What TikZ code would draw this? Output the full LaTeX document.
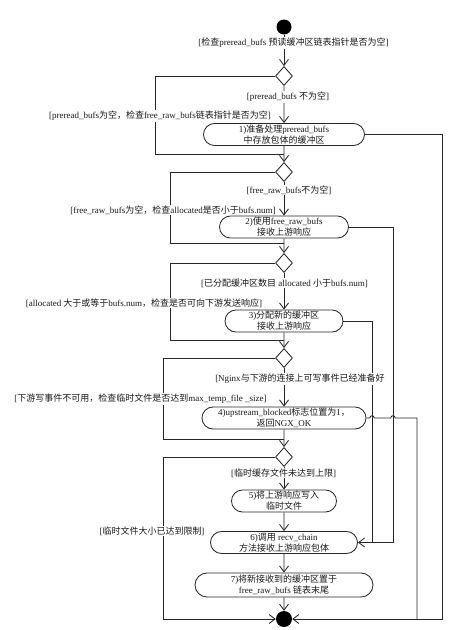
\documentclass[tikz,border=0pt]{standalone}
\usepackage{fontspec}
\setmainfont{Liberation Serif}
\newfontfamily\cjkfont{Noto Sans CJK SC}
\usetikzlibrary{shapes.geometric,shapes.misc,arrows.meta}
\XeTeXinterchartokenstate=1
\chardef\CJKcls=10
\count255="3000
\loop
  \XeTeXcharclass\count255=\CJKcls
  \advance\count255 by 1
\ifnum\count255<"A000 \repeat
\count255="FF00
\loop
  \XeTeXcharclass\count255=\CJKcls
  \advance\count255 by 1
\ifnum\count255<"FFF0 \repeat
\XeTeXinterchartoks 0 \CJKcls = {\cjkfont}
\XeTeXinterchartoks 4095 \CJKcls = {\cjkfont}
\XeTeXinterchartoks \CJKcls 0 = {\rmfamily}
\XeTeXinterchartoks \CJKcls 4095 = {\rmfamily}
\tikzset{
 ln/.style={draw=black!85, line width=0.85pt},
 arr/.style={ln, -{Straight Barb[length=6pt,width=9pt]}},
 act/.style={rounded rectangle, draw=black!85, line width=0.85pt, fill=white, align=center, inner sep=0pt, minimum height=22pt, font=\fontsize{9}{11}\selectfont, text=black!90},
 dec/.style={diamond, draw=black!85, line width=0.85pt, fill=white, minimum width=17pt, minimum height=19pt, inner sep=0pt},
 lbl/.style={fill=white, inner sep=1pt, font=\fontsize{9}{11}\selectfont, text=black!90},
 dot/.style={circle, fill=black, minimum size=15pt, inner sep=0pt},
}
\begin{document}
\begin{tikzpicture}[x=1pt,y=-1pt]
\useasboundingbox (0,0) rectangle (474,630);
% nodes
\node[dot] (st) at (284,27) {};
\node[dec] (d1) at (284,76) {};
\node[act, minimum width=161pt] (n1) at (284,134.5) {1)准备处理preread\_bufs\\中存放包体的缓冲区};
\node[dec] (d2) at (284,172) {};
\node[act, minimum width=129pt] (n2) at (284,227) {2)使用free\_raw\_bufs\\接收上游响应};
\node[dec] (d3) at (284,263) {};
\node[act, minimum width=118pt] (n3) at (284,321) {3)分配新的缓冲区\\接收上游响应};
\node[dec] (d4) at (284,358) {};
\node[act, minimum width=164pt] (n4) at (284,418) {4)upstream\_blocked标志位置为1，\\返回NGX\_OK};
\node[dec] (d5) at (284,457) {};
\node[act, minimum width=105pt] (n5) at (284,501) {5)将上游响应写入\\临时文件};
\node[act, minimum width=147pt] (n6) at (284,542.5) {6)调用 recv\_chain\\方法接收上游响应包体};
\node[act, minimum width=178pt, minimum height=24pt] (n7) at (284,585) {7)将新接收到的缓冲区置于\\free\_raw\_bufs 链表末尾};
\node[dot, minimum size=16pt] (fin) at (284,619) {};
% junctions
\coordinate (j1) at (284,154);
\coordinate (j2) at (284,243);
\coordinate (j3) at (284,340);
\coordinate (j4) at (284,439);
\coordinate (r1) at (442,619);
\coordinate (r2) at (393,542.5);
\coordinate (r3) at (372,542.5);
\coordinate (r4) at (417,619);
\coordinate (l5) at (163,619);
% edges
\draw[arr] (st) -- (d1);
\draw[arr] (d1) -- (n1);
\draw[ln] (d1.west) -| (155,154) -- (j1);
\draw[arr] (n1) -- (d2);
\draw[arr] (n1.east) -| (r1) -- (fin);
\draw[arr] (d2) -- (n2);
\draw[ln] (d2.west) -| (170,243) -- (j2);
\draw[arr] (n2) -- (d3);
\draw[arr] (n2.east) -| (r2) -- (n6.east);
\draw[arr] (d3) -- (n3);
\draw[ln] (d3.west) -| (170,340) -- (j3);
\draw[arr] (n3) -- (d4);
\draw[ln] (n3.east) -| (r3);
\draw[arr] (d4) -- (n4);
\draw[ln] (d4.west) -| (163,439) -- (j4);
\draw[arr] (n4) -- (d5);
\draw[ln] (n4.east) -- (369.8,418) .. controls (369.8,415) and (374.2,415) .. (374.2,418) -- (390.8,418) .. controls (390.8,415) and (395.2,415) .. (395.2,418) -| (r4);
\draw[arr] (d5) -- (n5);
\draw[arr] (d5.west) -| (l5) -- (fin);
\draw[arr] (n5) -- (n6);
\draw[arr] (n6) -- (n7);
\draw[arr] (n7) -- (fin);
% labels
\node[lbl] (t0) at (293.5,43) {[检查preread\_bufs 预读缓冲区链表指针是否为空]};
\node[lbl] (t1) at (288,97) {[preread\_bufs 不为空]};
\node[lbl] (t2) at (160,116) {[preread\_bufs为空，检查free\_raw\_bufs链表指针是否为空]};
\node[lbl] (t3) at (289,190) {[free\_raw\_bufs不为空]};
\node[lbl] (t4) at (173,210) {[free\_raw\_bufs为空，检查allocated是否小于bufs.num]};
\node[lbl] (t5) at (284.5,283) {[已分配缓冲区数目 allocated 小于bufs.num]};
\node[lbl] (t6) at (144,303) {[allocated 大于或等于bufs.num，检查是否可向下游发送响应]};
\node[lbl] (t7) at (300,379) {[Nginx与下游的连接上可写事件已经准备好};
\node[lbl] (t8) at (140.5,399) {[下游写事件不可用，检查临时文件是否达到max\_temp\_file \_size]};
\node[lbl] (t9) at (283.5,473) {[临时缓存文件未达到上限]};
\node[lbl] (t10) at (152,531) {[临时文件大小已达到限制]};
\end{tikzpicture}
\end{document}
